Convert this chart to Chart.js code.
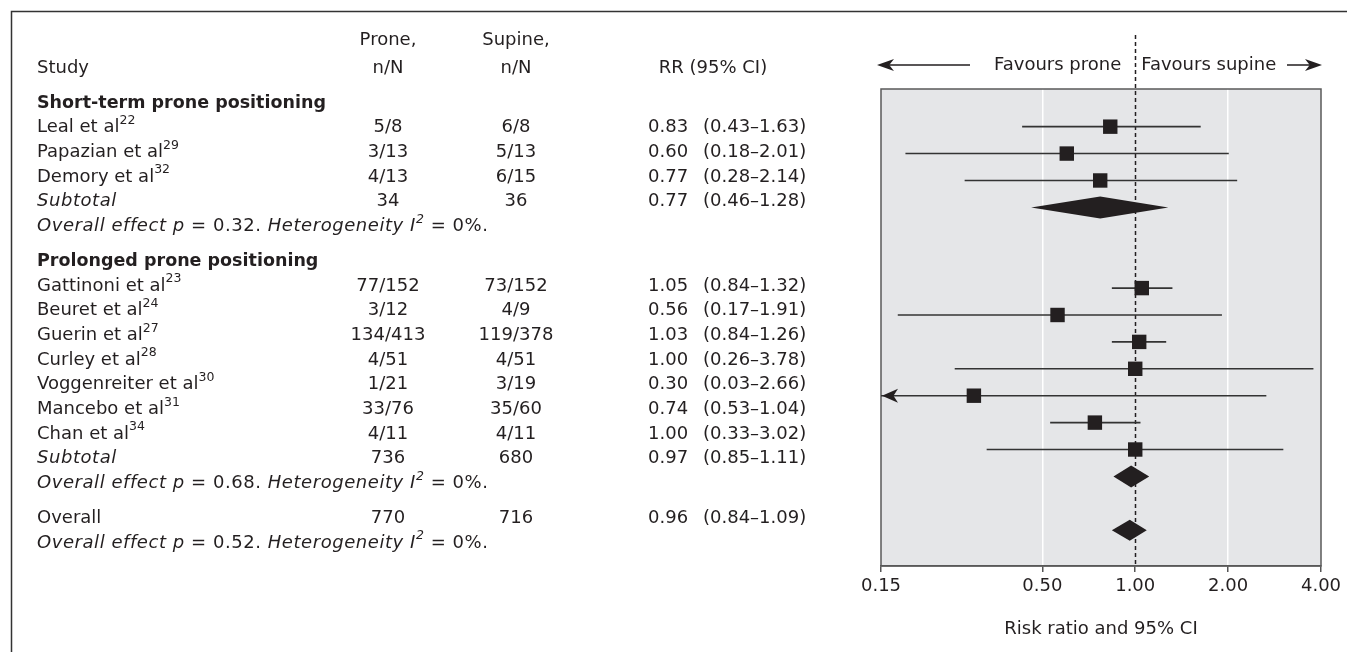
<!DOCTYPE html>
<html>
<head>
<meta charset="utf-8">
<title>Prone vs supine positioning - forest plot</title>
<script src="https://cdn.jsdelivr.net/npm/chart.js@4.4.1/dist/chart.umd.min.js"></script>
<style>
  html, body { margin: 0; padding: 0; background: #ffffff; }
  canvas { display: block; }
</style>
</head>
<body>
<canvas id="forest" width="1347" height="652"></canvas>
<script>
// Individual studies
const studyNames = ['Leal et al', 'Papazian et al', 'Demory et al', 'Gattinoni et al', 'Beuret et al',
                    'Guerin et al', 'Curley et al', 'Voggenreiter et al', 'Mancebo et al', 'Chan et al'];
const studyRefs = ['22', '29', '32', '23', '24', '27', '28', '30', '31', '34'];
const studyGroup = [0, 0, 0, 1, 1, 1, 1, 1, 1, 1];
const proneEvents = ['5/8', '3/13', '4/13', '77/152', '3/12', '134/413', '4/51', '1/21', '33/76', '4/11'];
const supineEvents = ['6/8', '5/13', '6/15', '73/152', '4/9', '119/378', '4/51', '3/19', '35/60', '4/11'];
const studyRR = [0.83, 0.60, 0.77, 1.05, 0.56, 1.03, 1.00, 0.30, 0.74, 1.00];
const studyLow = [0.43, 0.18, 0.28, 0.84, 0.17, 0.84, 0.26, 0.03, 0.53, 0.33];
const studyHigh = [1.63, 2.01, 2.14, 1.32, 1.91, 1.26, 3.78, 2.66, 1.04, 3.02];

// Subgroups
const groupNames = ['Short-term prone positioning', 'Prolonged prone positioning'];
const groupProne = [34, 736];
const groupSupine = [36, 680];
const groupRR = [0.77, 0.97];
const groupLow = [0.46, 0.85];
const groupHigh = [1.28, 1.11];
const groupP = ['0.32', '0.68'];
const groupI2 = ['0%', '0%'];

// Pooled
const overallProne = 770;
const overallSupine = 716;
const overallRR = 0.96;
const overallLow = 0.84;
const overallHigh = 1.09;
const overallP = '0.52';
const overallI2 = '0%';

const xTicks = [0.15, 0.5, 1, 2, 4];

const FONT = '"DejaVu Sans", Verdana, sans-serif';
const INK = '#231f20';

// Build the row list: each row gets an index used by both the table and the plot
const rows = [];
groupNames.forEach((g, gi) => {
    rows.push({ kind: 'heading', text: g });
    studyNames.forEach((name, si) => {
        if (studyGroup[si] !== gi) return;
        rows.push({ kind: 'study', name: name, ref: studyRefs[si], prone: proneEvents[si], supine: supineEvents[si],
                    rr: studyRR[si], lo: studyLow[si], hi: studyHigh[si] });
    });
    rows.push({ kind: 'pooled', name: 'Subtotal', italic: true, prone: String(groupProne[gi]), supine: String(groupSupine[gi]),
                rr: groupRR[gi], lo: groupLow[gi], hi: groupHigh[gi] });
    rows.push({ kind: 'effect', p: groupP[gi], i2: groupI2[gi] });
});
rows.push({ kind: 'pooled', name: 'Overall', italic: false, prone: String(overallProne), supine: String(overallSupine),
            rr: overallRR, lo: overallLow, hi: overallHigh });
rows.push({ kind: 'effect', p: overallP, i2: overallI2 });
rows.forEach((r, i) => { r.row = i; });

// table row positions (text layout only)
function textRowY(i) {
    return 103 + 24.7 * i + (i >= 6 ? 10 : 0) + (i >= 16 ? 10 : 0);
}

function drawRuns(ctx, runs, x, y, align, spacing) {
    ctx.letterSpacing = (spacing || 0) + 'px';
    let total = 0;
    runs.forEach(r => { ctx.font = r.font; r.w = ctx.measureText(r.text).width; total += r.w; });
    let cx = align === 'center' ? x - total / 2 : (align === 'right' ? x - total : x);
    runs.forEach(r => {
        ctx.font = r.font;
        ctx.fillText(r.text, cx, y + (r.dy || 0));
        cx += r.w;
    });
    ctx.letterSpacing = '0px';
}

function arrowHead(ctx, tipX, y, dir, len, half) {
    ctx.beginPath();
    ctx.moveTo(tipX, y);
    ctx.lineTo(tipX + dir * len, y - half);
    ctx.lineTo(tipX + dir * len * 0.72, y);
    ctx.lineTo(tipX + dir * len, y + half);
    ctx.closePath();
    ctx.fill();
}

const forestPlugin = {
    id: 'forest',
    beforeDraw(chart) {
        const { ctx, chartArea: a } = chart;
        ctx.save();
        ctx.fillStyle = '#e5e6e8';
        ctx.fillRect(a.left, a.top, a.right - a.left, a.bottom - a.top);
        ctx.restore();
    },
    beforeDatasetsDraw(chart) {
        const { ctx, chartArea: a } = chart;
        const x = chart.scales.x, y = chart.scales.y;
        ctx.save();
        // box outline
        ctx.strokeStyle = '#5a5a5a';
        ctx.lineWidth = 1.5;
        ctx.strokeRect(a.left, a.top, a.right - a.left, a.bottom - a.top);

        // line of no effect
        const x1 = Math.round(x.getPixelForValue(1)) + 0.5;
        ctx.strokeStyle = INK;
        ctx.lineWidth = 1.5;
        ctx.setLineDash([4, 3]);
        ctx.beginPath();
        ctx.moveTo(x1, 35);
        ctx.lineTo(x1, a.bottom);
        ctx.stroke();
        ctx.setLineDash([]);

        // confidence intervals
        ctx.strokeStyle = '#333333';
        ctx.lineWidth = 1.6;
        rows.filter(r => r.kind === 'study').forEach(r => {
            const py = y.getPixelForValue(r.row);
            const lo = x.getPixelForValue(Math.max(r.lo, x.min));
            const hi = x.getPixelForValue(Math.min(r.hi, x.max));
            ctx.beginPath();
            ctx.moveTo(lo, py);
            ctx.lineTo(hi, py);
            ctx.stroke();
        });

        // pooled diamonds
        ctx.fillStyle = INK;
        rows.filter(r => r.kind === 'pooled').forEach(r => {
            const py = y.getPixelForValue(r.row);
            const h = r.name === 'Overall' ? 10.5 : 11;
            ctx.beginPath();
            ctx.moveTo(x.getPixelForValue(r.lo), py);
            ctx.lineTo(x.getPixelForValue(r.rr), py - h);
            ctx.lineTo(x.getPixelForValue(r.hi), py);
            ctx.lineTo(x.getPixelForValue(r.rr), py + h);
            ctx.closePath();
            ctx.fill();
        });
        ctx.restore();
    },
    afterDatasetsDraw(chart) {
        const { ctx } = chart;
        const x = chart.scales.x, y = chart.scales.y;
        ctx.save();
        ctx.fillStyle = INK;
        // CIs running off the axis get an arrow
        rows.filter(r => r.kind === 'study').forEach(r => {
            const py = y.getPixelForValue(r.row);
            if (r.lo < x.min) arrowHead(ctx, x.getPixelForValue(x.min) + 1, py, 1, 16, 7);
            if (r.hi > x.max) arrowHead(ctx, x.getPixelForValue(x.max) - 1, py, -1, 16, 7);
        });
        ctx.restore();
    },
    afterDraw(chart) {
        const { ctx, chartArea: a } = chart;
        const x = chart.scales.x;
        const x1 = x.getPixelForValue(1);
        ctx.save();

        // figure frame (left and top rules)
        ctx.strokeStyle = '#333333';
        ctx.lineWidth = 1.5;
        ctx.beginPath();
        ctx.moveTo(11.5, 652);
        ctx.lineTo(11.5, 11.5);
        ctx.lineTo(1347, 11.5);
        ctx.stroke();

        ctx.fillStyle = INK;
        ctx.textBaseline = 'middle';
        ctx.textAlign = 'left';
        const reg = '18px ' + FONT, bold = 'bold 17.5px ' + FONT, ital = 'italic 18px ' + FONT;
        const sup = '12.5px ' + FONT, supIt = 'italic 12.5px ' + FONT;

        // favours labels with arrows
        const fy = 65;
        drawRuns(ctx, [{ text: 'Favours prone', font: reg }], x1 - 14, fy, 'right');
        drawRuns(ctx, [{ text: 'Favours supine', font: reg }], x1 + 6, fy, 'left');
        ctx.strokeStyle = INK;
        ctx.lineWidth = 1.5;
        ctx.beginPath();
        ctx.moveTo(a.left + 6, fy); ctx.lineTo(970, fy);
        ctx.moveTo(1287, fy); ctx.lineTo(a.right - 6, fy);
        ctx.stroke();
        arrowHead(ctx, a.left - 4, fy, 1, 17, 6);
        arrowHead(ctx, a.right + 1, fy, -1, 17, 6);

        // table columns
        const colStudy = 37, colProne = 388, colSupine = 516, colRR = 648, colCI = 703;

        drawRuns(ctx, [{ text: 'Prone,', font: reg }], colProne, 40, 'center');
        drawRuns(ctx, [{ text: 'Supine,', font: reg }], colSupine, 40, 'center');
        drawRuns(ctx, [{ text: 'Study', font: reg }], colStudy, 68, 'left');
        drawRuns(ctx, [{ text: 'n/N', font: reg }], colProne, 68, 'center');
        drawRuns(ctx, [{ text: 'n/N', font: reg }], colSupine, 68, 'center');
        drawRuns(ctx, [{ text: 'RR (95% CI)', font: reg }], 713, 68, 'center');

        rows.forEach(r => {
            const ty = textRowY(r.row);
            if (r.kind === 'heading') {
                drawRuns(ctx, [{ text: r.text, font: bold }], colStudy, ty, 'left');
            } else if (r.kind === 'effect') {
                drawRuns(ctx, [
                    { text: 'Overall effect p', font: ital },
                    { text: ' = ' + r.p + '. ', font: reg },
                    { text: 'Heterogeneity I', font: ital },
                    { text: '2', font: supIt, dy: -7 },
                    { text: ' = ' + r.i2 + '.', font: reg }
                ], colStudy, ty, 'left', 0.55);
            } else {
                const nameRuns = [{ text: r.name, font: r.italic ? ital : reg }];
                if (r.ref) nameRuns.push({ text: r.ref, font: sup, dy: -7 });
                drawRuns(ctx, nameRuns, colStudy, ty, 'left', r.italic ? 0.55 : 0);
                drawRuns(ctx, [{ text: r.prone, font: reg }], colProne, ty, 'center');
                drawRuns(ctx, [{ text: r.supine, font: reg }], colSupine, ty, 'center');
                drawRuns(ctx, [{ text: r.rr.toFixed(2), font: reg }], colRR, ty, 'left');
                drawRuns(ctx, [{ text: '(' + r.lo.toFixed(2) + '\u2013' + r.hi.toFixed(2) + ')', font: reg }], colCI, ty, 'left');
            }
        });
        ctx.restore();
    }
};

const studyPoints = rows.filter(r => r.kind === 'study').map(r => ({ x: r.rr, y: r.row }));

new Chart(document.getElementById('forest'), {
    type: 'scatter',
    data: {
        datasets: [{
            label: 'Risk ratio',
            data: studyPoints,
            pointStyle: 'rect',
            pointRadius: 10.2,
            pointHoverRadius: 10.2,
            pointBorderWidth: 0,
            backgroundColor: INK,
            borderColor: INK
        }]
    },
    options: {
        responsive: false,
        animation: false,
        events: [],
        layout: { padding: { left: 881, right: 26, top: 89, bottom: 12 } },
        plugins: {
            legend: { display: false },
            tooltip: { enabled: false }
        },
        scales: {
            x: {
                type: 'logarithmic',
                min: 0.15,
                max: 4,
                afterBuildTicks: scale => { scale.ticks = xTicks.map(v => ({ value: v })); },
                afterFit: scale => { scale.height = 74; },
                ticks: {
                    autoSkip: false,
                    maxRotation: 0,
                    padding: 4,
                    color: INK,
                    font: { family: FONT, size: 18 },
                    callback: v => Number(v).toFixed(2)
                },
                grid: {
                    color: c => (c.tick && (c.tick.value === 0.5 || c.tick.value === 2)) ? '#ffffff' : 'rgba(0,0,0,0)',
                    lineWidth: 1.5,
                    tickColor: '#555555',
                    tickLength: 6,
                    drawTicks: true
                },
                border: { display: true, color: '#555555', width: 1.5 },
                title: {
                    display: true,
                    text: 'Risk ratio and 95% CI',
                    color: INK,
                    font: { family: FONT, size: 18 },
                    padding: { top: 0, bottom: 0 }
                }
            },
            y: {
                type: 'linear',
                display: false,
                reverse: true,
                min: -0.40,
                max: 17.33
            }
        }
    },
    plugins: [forestPlugin]
});
</script>
</body>
</html>
